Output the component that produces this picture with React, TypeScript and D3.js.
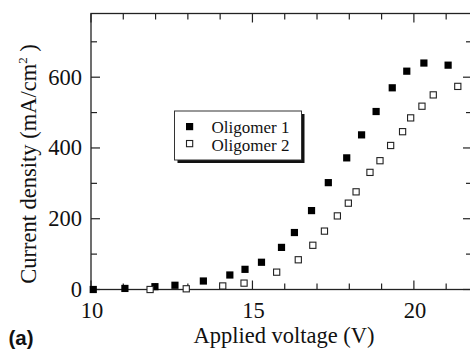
import * as d3 from 'd3';

// Oligomer 1 (filled squares)
const voltage1 = [10.07, 11.05, 11.98, 12.6, 13.48, 14.3, 14.77, 15.28, 15.9, 16.3, 16.83, 17.35, 17.92, 18.38, 18.83, 19.33, 19.78, 20.31, 21.06];
const current1 = [0, 3, 8, 12, 24, 41, 57, 77, 119, 161, 223, 302, 372, 437, 503, 570, 617, 640, 634];

// Oligomer 2 (open squares)
const voltage2 = [11.83, 12.95, 14.08, 14.74, 15.75, 16.42, 16.87, 17.23, 17.63, 17.97, 18.21, 18.64, 18.95, 19.28, 19.65, 19.9, 20.25, 20.6, 21.36];
const current2 = [0, 2, 10, 18, 49, 84, 125, 165, 208, 244, 276, 331, 364, 407, 446, 485, 518, 550, 574];

const seriesNames = ['Oligomer 1', 'Oligomer 2'];
const xMajorTicks = [10, 15, 20];
const yMajorTicks = [0, 200, 400, 600];

export default function App() {
  const width = 470;
  const height = 350;
  const plot = { left: 91, right: 472, top: 13.5, bottom: 289.5 };
  const serif = '"Liberation Serif", "Times New Roman", serif';

  const x = d3.scaleLinear().domain([10, 21.8]).range([plot.left, plot.right]);
  const y = d3.scaleLinear().domain([0, 780]).range([plot.bottom, plot.top]);

  const xMinor = d3.range(10, 22, 1).filter((t) => !xMajorTicks.includes(t));
  const yMinor = d3.range(0, 781, 100).filter((t) => !yMajorTicks.includes(t));

  const s1 = voltage1.map((v, i) => ({ v, j: current1[i] }));
  const s2 = voltage2.map((v, i) => ({ v, j: current2[i] }));
  const m = 7.2;

  const major = 9;
  const minor = 6;
  const axisColor = '#222';

  return (
    <div style={{ position: 'fixed', left: 0, top: 0 }}>
      <svg width={width} height={height} style={{ display: 'block', background: '#fff' }}>
        {/* frame */}
        <rect
          x={plot.left}
          y={plot.top}
          width={plot.right - plot.left}
          height={plot.bottom - plot.top}
          fill="none"
          stroke={axisColor}
          strokeWidth={1.3}
        />

        {/* x ticks, bottom and top */}
        {[...xMajorTicks.map((t) => ({ t, len: major })), ...xMinor.map((t) => ({ t, len: minor }))].map(({ t, len }) => (
          <g key={`x-${t}`}>
            <line x1={x(t)} x2={x(t)} y1={plot.bottom} y2={plot.bottom - len} stroke={axisColor} strokeWidth={1.2} />
            <line x1={x(t)} x2={x(t)} y1={plot.top} y2={plot.top + len} stroke={axisColor} strokeWidth={1.2} />
          </g>
        ))}
        {xMajorTicks.map((t) => (
          <text key={`xl-${t}`} x={x(t) + 1} y={318} textAnchor="middle" fontFamily={serif} fontSize={22.5} fill="#111">
            {t}
          </text>
        ))}

        {/* y ticks, left and right */}
        {[...yMajorTicks.map((t) => ({ t, len: major })), ...yMinor.map((t) => ({ t, len: minor }))].map(({ t, len }) => (
          <g key={`y-${t}`}>
            <line x1={plot.left} x2={plot.left + len} y1={y(t)} y2={y(t)} stroke={axisColor} strokeWidth={1.2} />
            <line x1={plot.right} x2={plot.right - len} y1={y(t)} y2={y(t)} stroke={axisColor} strokeWidth={1.2} />
          </g>
        ))}
        {yMajorTicks.map((t) => (
          <text key={`yl-${t}`} x={82} y={y(t) + 7.5} textAnchor="end" fontFamily={serif} fontSize={22.5} fill="#111">
            {t}
          </text>
        ))}

        {/* axis titles */}
        <text x={284} y={343} textAnchor="middle" fontFamily={serif} fontSize={22.5} fill="#111">
          Applied voltage (V)
        </text>
        <text
          transform={`translate(36,${164}) rotate(-90)`}
          textAnchor="middle"
          fontFamily={serif}
          fontSize={22.5}
          fill="#111"
        >
          Current density (mA/cm
          <tspan fontSize={13} dy={-9}>2</tspan>
          <tspan dy={9}> )</tspan>
        </text>
        <text x={8.5} y={345} fontFamily='"Liberation Sans", Arial, sans-serif' fontWeight="bold" fontSize={20.5} fill="#111">
          (a)
        </text>

        {/* data */}
        {s1.map((d, i) => (
          <rect key={`a-${i}`} x={x(d.v) - m / 2} y={y(d.j) - m / 2} width={m} height={m} fill="#000" />
        ))}
        {s2.map((d, i) => (
          <rect
            key={`b-${i}`}
            x={x(d.v) - m / 2 + 0.5}
            y={y(d.j) - m / 2 + 0.5}
            width={m - 1}
            height={m - 1}
            fill="#fff"
            stroke="#222"
            strokeWidth={1.1}
          />
        ))}

        {/* legend */}
        <rect x={177.5} y={114} width={127} height={49} fill="#111" />
        <rect x={174.5} y={111} width={127} height={49} fill="#fff" stroke="#333" strokeWidth={1} />
        <rect x={186} y={123} width={m} height={m} fill="#000" />
        <rect x={186.5} y={140.5} width={m - 1} height={m - 1} fill="#fff" stroke="#222" strokeWidth={1.1} />
        {seriesNames.map((name, i) => (
          <text key={name} x={211.5} y={133 + i * 17.5} fontFamily={serif} fontSize={17} fill="#111">
            {name}
          </text>
        ))}
      </svg>
    </div>
  );
}
